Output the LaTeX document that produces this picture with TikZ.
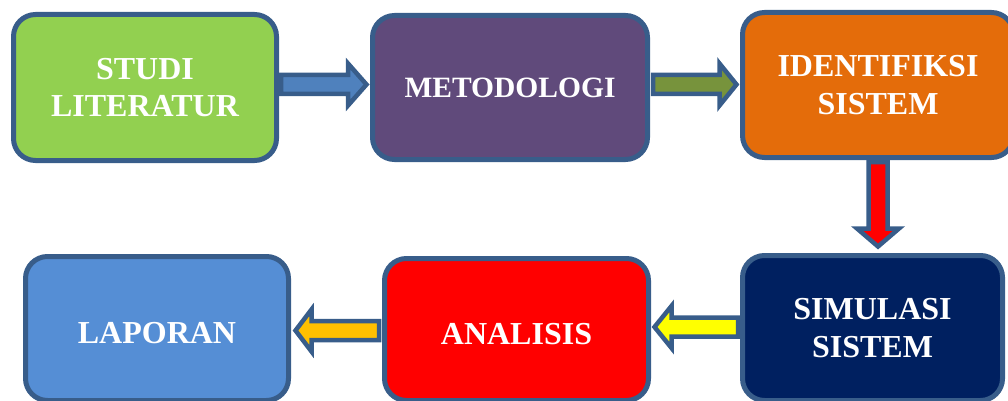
\documentclass[tikz,border=0pt]{standalone}
\usepackage{fontspec}
\setmainfont{Liberation Serif}
\usetikzlibrary{calc}
\definecolor{edgeblue}{HTML}{385D8A}
\definecolor{stepgreen}{HTML}{92D050}
\definecolor{steppurple}{HTML}{604A7B}
\definecolor{steporange}{HTML}{E46C0A}
\definecolor{stepnavy}{HTML}{002060}
\definecolor{stepred}{HTML}{FF0000}
\definecolor{stepblue}{HTML}{558ED5}
\definecolor{arrowblue}{HTML}{4F81BD}
\definecolor{arrowolive}{HTML}{77933C}
\definecolor{arrowred}{HTML}{FF0000}
\definecolor{arrowyellow}{HTML}{FFFF00}
\definecolor{arrowgold}{HTML}{FFC000}
\begin{document}
\begin{tikzpicture}[x=1pt,y=-1pt,
  stagebox/.style={draw=edgeblue, line width=5pt, rounded corners=22pt,
    text=white, font=\fontsize{32}{37.5}\selectfont\bfseries,
    align=center, inner sep=0pt},
  lowtext/.style={text height=29pt, text depth=0pt},
  pics/blockarrow/.style n args={3}{code={
    \draw[line width=4.5pt, draw=edgeblue, fill=#3, line join=miter]
      (0,-9.5) -- ({#1-#2},-9.5) -- ({#1-#2},-21) -- (#1,0)
      -- ({#1-#2},21) -- ({#1-#2},9.5) -- (0,9.5) -- cycle;}}]
\useasboundingbox (0,0) rectangle (1008,401);
\clip (0,0) rectangle (1008,401);

% process steps
\node[stagebox, fill=stepgreen,  minimum width=263pt, minimum height=146pt] (studi) at (145,87.5) {STUDI\\LITERATUR};
\node[stagebox, fill=steppurple, minimum width=275pt, minimum height=144pt,
      font=\fontsize{29.5}{35}\selectfont\bfseries] (meto) at (510,87.5) {METODOLOGI};
\node[stagebox, fill=steporange, minimum width=271pt, minimum height=145pt] (ident) at (878,85)   {IDENTIFIKSI\\SISTEM};
\node[stagebox, fill=stepnavy,   minimum width=260pt, minimum height=145pt] (simu)  at (872.5,328) {SIMULASI\\SISTEM};
\node[stagebox, lowtext, fill=stepred,  minimum width=264pt, minimum height=142pt] (anal)  at (516.5,329.5) {ANALISIS};
\node[stagebox, lowtext, fill=stepblue, minimum width=263pt, minimum height=144pt] (lapor) at (157,328.5)   {LAPORAN};

% block arrows between the steps
\pic at ($(studi.east)+(2,-3)$) {blockarrow={85.5}{18.5}{arrowblue}};
\pic at ($(meto.east)+(3,-3)$) {blockarrow={83.5}{17}{arrowolive}};
\pic[rotate=-90] at ($(ident.south)+(0,2)$) {blockarrow={84.5}{18}{arrowred}};
\pic[rotate=180] at ($(simu.west)+(-2,-1)$) {blockarrow={83.5}{17}{arrowyellow}};
\pic[rotate=180] at ($(anal.west)+(-3,1)$) {blockarrow={83.5}{16}{arrowgold}};
\end{tikzpicture}
\end{document}
